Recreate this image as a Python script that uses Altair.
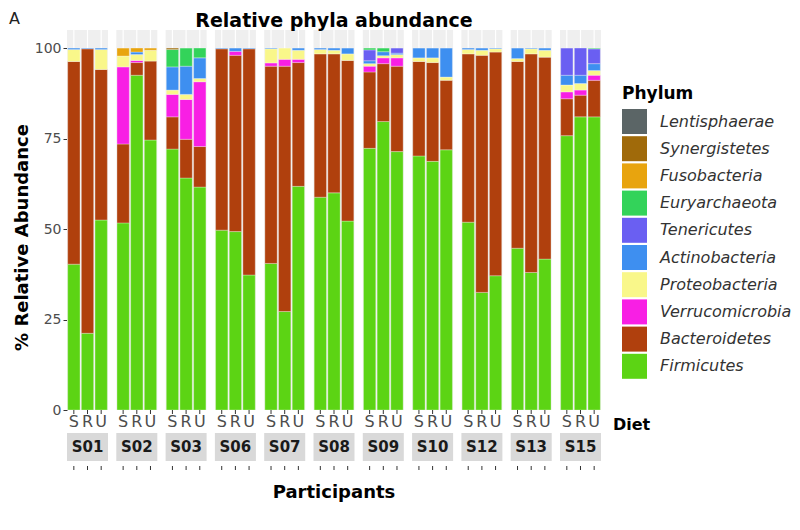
import altair as alt
import pandas as pd

participants = ["S01", "S02", "S03", "S06", "S07", "S08", "S09", "S10", "S12", "S13", "S15"]
diets = ["S", "R", "U"]

# legend order (top to bottom)
phyla = ["Lentisphaerae", "Synergistetes", "Fusobacteria", "Euryarchaeota", "Tenericutes",
         "Actinobacteria", "Proteobacteria", "Verrucomicrobia", "Bacteroidetes", "Firmicutes"]
colors = ["#5b6566", "#a06a0a", "#e8a40e", "#33d35a", "#6a5ff2",
          "#3e8ff0", "#f9f78a", "#f81fe4", "#b0400d", "#5cd414"]

# values per sample, order: S01 S,R,U, S02 S,R,U, ...
firmicutes = [40.3, 21.2, 52.5, 51.7, 92.5, 74.6, 72.1, 64.1, 61.6, 49.7, 49.3, 37.3,
              40.5, 27.2, 61.8, 58.8, 60.0, 52.2, 72.3, 79.7, 71.4, 70.2, 68.7, 71.9,
              51.9, 32.5, 37.1, 44.7, 38.0, 41.7, 75.8, 81.0, 81.0]
bacteroidetes = [56.0, 78.6, 41.6, 21.8, 3.5, 21.8, 8.9, 10.7, 11.2, 50.1, 48.7, 62.5,
                 54.5, 67.8, 34.2, 39.6, 38.4, 44.4, 21.1, 16.0, 23.6, 26.1, 27.3, 19.2,
                 46.5, 65.5, 61.8, 51.6, 60.4, 55.8, 10.2, 6.0, 10.1]
verrucomicrobia = [0, 0, 0, 21.3, 0.6, 0, 6.2, 11.0, 17.9, 0, 1.1, 0,
                   0.9, 1.9, 0.9, 0, 0, 0, 1.6, 1.6, 2.3, 0, 0, 0,
                   0, 0, 0, 0, 0, 0, 1.9, 1.4, 1.4]
proteobacteria = [3.3, 0, 5.5, 3.0, 1.6, 3.0, 1.2, 1.4, 0.9, 0, 0, 0,
                  3.9, 3.1, 2.5, 1.2, 1.0, 1.8, 0.7, 0.6, 0.9, 1.0, 1.3, 0.9,
                  1.2, 1.4, 0.9, 0.8, 1.4, 1.9, 1.9, 1.8, 1.3]
actinobacteria = [0.4, 0.2, 0.4, 0, 0.7, 0, 6.4, 7.8, 5.7, 0.2, 0.9, 0.2,
                  0.2, 0, 0.6, 0.4, 0.6, 1.6, 0.8, 1.1, 0.4, 2.7, 2.7, 8.0,
                  0.4, 0.6, 0.2, 2.9, 0.2, 0.6, 2.7, 2.3, 1.9]
tenericutes = [0, 0, 0, 0, 0, 0, 0, 0, 0, 0, 0, 0,
               0, 0, 0, 0, 0, 0, 3.0, 0, 1.4, 0, 0, 0,
               0, 0, 0, 0, 0, 0, 7.5, 7.5, 4.1]
euryarchaeota = [0, 0, 0, 0, 0, 0, 4.8, 5.0, 2.7, 0, 0, 0,
                 0, 0, 0, 0, 0, 0, 0.5, 1.0, 0, 0, 0, 0,
                 0, 0, 0, 0, 0, 0, 0, 0, 0.2]
fusobacteria = [0, 0, 0, 2.2, 1.1, 0.6, 0, 0, 0, 0, 0, 0,
                0, 0, 0, 0, 0, 0, 0, 0, 0, 0, 0, 0,
                0, 0, 0, 0, 0, 0, 0, 0, 0]
synergistetes = [0, 0, 0, 0, 0, 0, 0.4, 0, 0, 0, 0, 0,
                 0, 0, 0, 0, 0, 0, 0, 0, 0, 0, 0, 0,
                 0, 0, 0, 0, 0, 0, 0, 0, 0]
lentisphaerae = [0] * 33

series = {
    "Firmicutes": firmicutes, "Bacteroidetes": bacteroidetes, "Verrucomicrobia": verrucomicrobia,
    "Proteobacteria": proteobacteria, "Actinobacteria": actinobacteria, "Tenericutes": tenericutes,
    "Euryarchaeota": euryarchaeota, "Fusobacteria": fusobacteria, "Synergistetes": synergistetes,
    "Lentisphaerae": lentisphaerae,
}
stack_order = list(reversed(phyla))  # Firmicutes at bottom

rows = []
samples = []
for i, p in enumerate(participants):
    for j, d in enumerate(diets):
        k = i * 3 + j
        samples.append({"Participant": p, "Diet": d, "lo": 0, "hi": 105})
        for ph in stack_order:
            v = series[ph][k]
            if v > 0:
                rows.append({"Participant": p, "Diet": d, "Phylum": ph, "Value": v,
                             "ord": stack_order.index(ph)})
df = pd.DataFrame(rows)
sdf = pd.DataFrame(samples)
pdf = pd.DataFrame({"Participant": participants, "lo": 0, "hi": 105})
one = pd.DataFrame({"a": [0]})

FONT = "DejaVu Sans"
W, H = 534, 380

xs = alt.X("Participant:N", scale=alt.Scale(domain=participants, paddingInner=0.168, paddingOuter=0), axis=None)
xo = alt.XOffset("Diet:N", scale=alt.Scale(domain=diets, paddingInner=0.1, paddingOuter=0.05))
yscale = alt.Scale(domain=[0, 105], nice=False)
yaxis = alt.Axis(values=[0, 25, 50, 75, 100], title="% Relative Abundance",
                 domain=False, grid=False, ticks=True, tickSize=4, tickColor="#333333",
                 labelPadding=2, labelFontSize=14, labelColor="#4d4d4d", labelFont=FONT,
                 titleFont=FONT, titleFontSize=18, titleFontWeight="bold", titleColor="black",
                 titleX=-45, titleY=207, titleAlign="center", titleBaseline="middle")

bg = alt.Chart(pdf).mark_rect(color="#efefef").encode(
    x=xs, y=alt.Y("hi:Q", scale=yscale, axis=yaxis), y2="lo:Q")

grid = alt.Chart(sdf).mark_rule(color="white", strokeWidth=1.2).encode(
    x=xs, xOffset=xo, y=alt.Y("hi:Q", scale=yscale, axis=yaxis), y2="lo:Q")

bars = alt.Chart(df).mark_bar(stroke="white", strokeWidth=0.3).encode(
    x=xs, xOffset=xo,
    y=alt.Y("Value:Q", stack="zero", scale=yscale, axis=yaxis),
    color=alt.Color("Phylum:N", scale=alt.Scale(domain=phyla, range=colors),
                    legend=alt.Legend(title="Phylum", orient="none", legendX=555, legendY=56,
                                      titleFont=FONT, titleFontSize=17, titleFontWeight="bold",
                                      titleColor="black", titlePadding=6,
                                      labelFont=FONT, labelFontSize=16, labelFontStyle="italic",
                                      labelColor="#333333", labelOffset=13,
                                      symbolType="square", symbolSize=625, symbolStrokeWidth=0,
                                      symbolOpacity=1, rowPadding=2.2, padding=0)),
    order=alt.Order("ord:Q", sort="ascending"),
)

diet_labels = alt.Chart(sdf).mark_text(font=FONT, fontSize=16, color="#4d4d4d").encode(
    x=xs, xOffset=xo, y=alt.value(392), text="Diet:N")

ticks1 = alt.Chart(sdf).mark_rule(color="#333333", strokeWidth=1).encode(
    x=xs, xOffset=xo, y=alt.value(380), y2=alt.value(384))

strip = alt.Chart(pdf).mark_rect(color="#d9d9d9").encode(
    x=xs, y=alt.value(403), y2=alt.value(431))

strip_text = alt.Chart(pdf).mark_text(font=FONT, fontSize=15, fontWeight="bold", color="#1a1a1a").encode(
    x=xs, y=alt.value(417), text="Participant:N")

ticks2 = alt.Chart(sdf).mark_rule(color="#333333", strokeWidth=1).encode(
    x=xs, xOffset=xo, y=alt.value(436), y2=alt.value(440))

diet_title = alt.Chart(one).mark_text(font=FONT, fontSize=16, fontWeight="bold", color="black",
                                      align="left").encode(
    x=alt.value(546), y=alt.value(395), text=alt.value("Diet"))

part_title = alt.Chart(one).mark_text(font=FONT, fontSize=18, fontWeight="bold", color="black").encode(
    x=alt.value(267), y=alt.value(463), text=alt.value("Participants"))

main_title = alt.Chart(one).mark_text(font=FONT, fontSize=19, fontWeight="bold", color="black",
                                      baseline="alphabetic").encode(
    x=alt.value(267), y=alt.value(-3), text=alt.value("Relative phyla abundance"))

panel_a = alt.Chart(one).mark_text(font=FONT, fontSize=16, color="#222222", align="left").encode(
    x=alt.value(-58), y=alt.value(-11), text=alt.value("A"))

chart = alt.layer(bg, grid, bars, diet_labels, ticks1, strip, strip_text, ticks2,
                  diet_title, part_title, main_title, panel_a).properties(
    width=W, height=H,
    autosize=alt.AutoSizeParams(type="none"),
    padding={"left": 59, "top": 22, "right": 191, "bottom": 110},
).configure_view(stroke=None)

chart.save("out.html", embed_options={"renderer": "svg", "actions": False})
